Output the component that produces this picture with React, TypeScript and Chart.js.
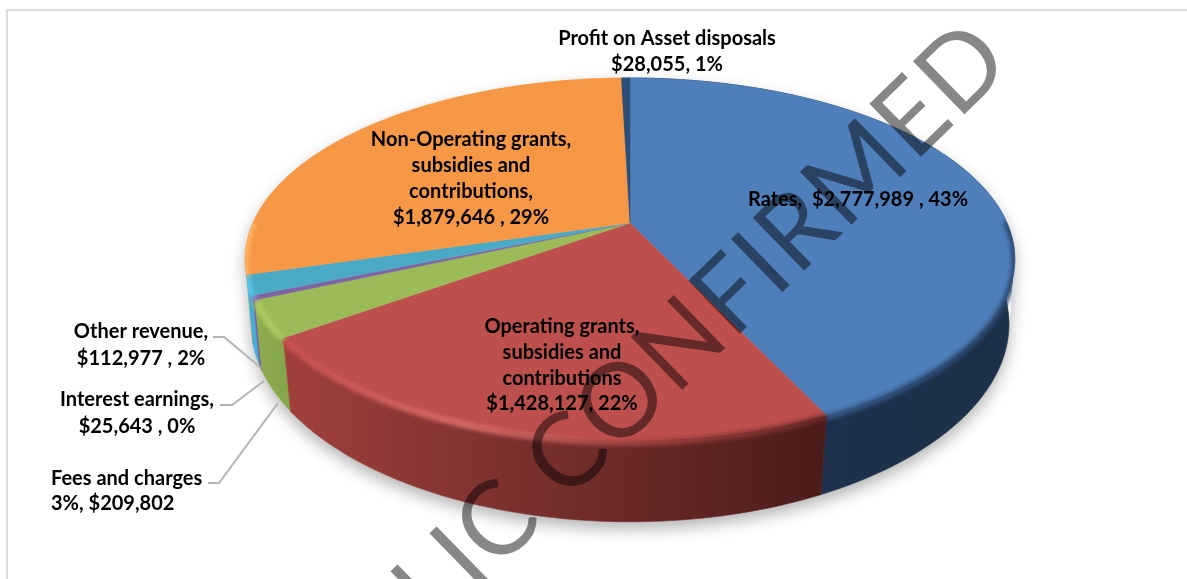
import React, { useEffect, useRef } from "react";
import { Chart, registerables } from "chart.js";

Chart.register(...registerables);

const categories = [
  "Rates",
  "Operating grants, subsidies and contributions",
  "Fees and charges",
  "Interest earnings",
  "Other revenue",
  "Non-Operating grants, subsidies and contributions",
  "Profit on Asset disposals",
];
const values = [2777989, 1428127, 209802, 25643, 112977, 1879646, 28055];
const topColors = ["#4e7fbb", "#bd4f4c", "#9bbb59", "#8064a2", "#4aa9c4", "#f59745", "#2c4d75"];
const sideLeft = ["#1e3351", "#a0403d", "#8dae4f", "#7a5ea0", "#44aed6", "#f8a452", "#1e3351"];
const sideRight = ["#1d3049", "#4a1c1a", "#86a64a", "#7a5ea0", "#44aed6", "#f8a452", "#1e3351"];
const bevelStops: string[][] = [
  ["#3a5f8f", "#2f4f79", "#2b476b"],
  ["#c9524f", "#e0706c", "#a84542", "#692826"],
  ["#aacb60", "#aed063", "#a6c75f"],
  ["#9278b8", "#9278b8", "#9278b8"],
  ["#5cc6ea", "#5cc6ea", "#5cc6ea"],
  ["#fdb566", "#fdb566", "#fdb566"],
  ["#2c4d75", "#2c4d75", "#2c4d75"],
];

const labelLines: string[][] = [
  ["Rates,  $2,777,989 , 43%"],
  ["Operating grants,", "subsidies and", "contributions", "$1,428,127, 22%"],
  ["Fees and charges", "3%, $209,802"],
  ["Interest earnings,", "$25,643 , 0%"],
  ["Other revenue,", "$112,977 , 2%"],
  ["Non-Operating grants,", "subsidies and", "contributions,", "$1,879,646 , 29%"],
  ["Profit on Asset disposals", "$28,055, 1%"],
];
const labelX = [858, 562, 51, 137, 141, 471, 667];
const labelY: number[][] = [
  [200],
  [327, 353, 379, 404],
  [479, 504],
  [400, 427],
  [332, 359],
  [140, 166, 192, 218],
  [39, 65],
];
const labelAlign = ["center", "center", "left", "center", "center", "center", "center"];
const leaders: number[][][] = [
  [[208, 483], [219, 483], [278, 403]],
  [[220, 405], [232, 405], [264, 381]],
  [[213, 337], [224, 337], [260, 367]],
];
const watermark = "PUBLIC CONFIRMED";

const CX = 630, CY = 223, A = 377, B = 174, K = 0.2, D = 65;
const proj = (t: number, r = 1, d = 0): [number, number] => {
  const u = r * Math.sin(t);
  const v = -r * Math.cos(t);
  const w = 1 - K * v;
  const shrink = 1 - (d / D) * (0.012 + 0.016 * Math.max(v, 0));
  return [CX + ((A * u) / w) * shrink, CY + (B * v + d) / w];
};
const samples = (a: number, b: number) => {
  const n = Math.max(2, Math.ceil((b - a) / 0.01));
  const out: number[] = [];
  for (let i = 0; i <= n; i++) out.push(a + ((b - a) * i) / n);
  return out;
};
const hullPath = (ctx: CanvasRenderingContext2D) => {
  const tan = Math.acos(-K);
  ctx.beginPath();
  samples(tan, Math.PI * 2 - tan).forEach((t, n) => {
    const [x, y] = proj(t, 1, D);
    if (n) ctx.lineTo(x, y);
    else ctx.moveTo(x, y);
  });
  samples(Math.PI * 2 - tan, Math.PI * 2 + tan).forEach((t) => {
    const [x, y] = proj(t);
    ctx.lineTo(x, y);
  });
  ctx.closePath();
};

const piePlugin = {
  id: "pie3d",
  beforeDatasetsDraw(chart: any) {
    const ctx: CanvasRenderingContext2D = chart.ctx;
    const arcs = chart.getDatasetMeta(0).data.map((el: any, i: number) => ({
      i,
      a: el.startAngle + Math.PI / 2,
      b: el.endAngle + Math.PI / 2,
    }));

    // frame
    ctx.save();
    ctx.strokeStyle = "#dcdcdc";
    ctx.lineWidth = 2;
    ctx.strokeRect(7, 10, 1400, 800);
    ctx.restore();

    // soft shadow beneath the body
    ctx.save();
    hullPath(ctx);
    ctx.shadowColor = "rgba(0,0,0,0.30)";
    ctx.shadowBlur = 16;
    ctx.shadowOffsetY = 7;
    ctx.fillStyle = "#fff";
    ctx.fill();
    ctx.restore();

    // side walls, from back to front
    const order = [...arcs].sort(
      (p: any, q: any) => -Math.cos((p.a + p.b) / 2) - -Math.cos((q.a + q.b) / 2)
    );
    order.forEach(({ i, a, b }: any) => {
      const ts = samples(a, b);
      const xs = ts.map((t) => proj(t)[0]);
      const g = ctx.createLinearGradient(Math.min(...xs), 0, Math.max(...xs), 0);
      g.addColorStop(0, sideLeft[i]);
      g.addColorStop(1, sideRight[i]);
      ctx.beginPath();
      ts.forEach((t, n) => {
        const [x, y] = proj(t);
        if (n) ctx.lineTo(x, y);
        else ctx.moveTo(x, y);
      });
      [...ts].reverse().forEach((t) => {
        const [x, y] = proj(t, 1, D);
        ctx.lineTo(x, y);
      });
      ctx.closePath();
      ctx.fillStyle = g;
      ctx.strokeStyle = g;
      ctx.lineWidth = 0.7;
      ctx.fill();
      ctx.stroke();
    });

    // top wedges
    arcs.forEach(({ i, a, b }: any) => {
      ctx.beginPath();
      ctx.moveTo(CX, CY);
      samples(a, b).forEach((t) => {
        const [x, y] = proj(t);
        ctx.lineTo(x, y);
      });
      ctx.closePath();
      ctx.fillStyle = topColors[i];
      ctx.strokeStyle = topColors[i];
      ctx.lineWidth = 0.5;
      ctx.fill();
      ctx.stroke();
    });

    // soft bevel along the front rim, kept inside the silhouette
    ctx.save();
    hullPath(ctx);
    ctx.clip();
    arcs.forEach(({ i, a, b }: any) => {
      const ts = samples(a, b).filter((t) => -Math.cos(t) > -0.02);
      if (ts.length < 2) return;
      const xs = ts.map((t) => proj(t)[0]);
      const x0 = Math.min(...xs);
      const x1 = Math.max(...xs) + 1;
      const g = ctx.createLinearGradient(x0, 0, x1, 0);
      const stops = bevelStops[i];
      stops.forEach((c, n) => g.addColorStop(n / (stops.length - 1), c));
      ctx.save();
      ctx.filter = "blur(2.2px)";
      ctx.beginPath();
      ts.forEach((t, n) => {
        const [x, y] = proj(t, 1, 1.5);
        if (n) ctx.lineTo(x, y);
        else ctx.moveTo(x, y);
      });
      ctx.strokeStyle = g;
      ctx.lineWidth = 6;
      ctx.stroke();
      ctx.restore();
    });
    ctx.restore();

    // leader lines
    ctx.save();
    ctx.strokeStyle = "#b3b3b3";
    ctx.lineWidth = 2;
    leaders.forEach((pts) => {
      ctx.beginPath();
      pts.forEach(([x, y], n) => (n ? ctx.lineTo(x, y) : ctx.moveTo(x, y)));
      ctx.stroke();
    });
    ctx.restore();

    // data labels
    ctx.save();
    ctx.fillStyle = "#000";
    ctx.font = "bold 20px Lato";
    ctx.textBaseline = "middle";
    labelLines.forEach((lines, i) => {
      ctx.textAlign = labelAlign[i] as CanvasTextAlign;
      lines.forEach((s, n) => ctx.fillText(s, labelX[i], labelY[i][n]));
    });
    ctx.restore();

    // watermark
    ctx.save();
    ctx.globalCompositeOperation = "multiply";
    ctx.translate(1015, 65);
    ctx.rotate((-44.3 * Math.PI) / 180);
    ctx.fillStyle = "#878787";
    ctx.font = "103px Lato";
    (ctx as any).letterSpacing = "1.5px";
    ctx.textAlign = "right";
    ctx.textBaseline = "alphabetic";
    ctx.fillText(watermark, 0, 0);
    ctx.restore();

    return false;
  },
};

export default function App() {
  const ref = useRef<HTMLCanvasElement>(null);
  useEffect(() => {
    const chart = new Chart(ref.current!, {
      type: "pie",
      data: {
        labels: categories,
        datasets: [{ data: values, backgroundColor: topColors, borderWidth: 0 }],
      },
      options: {
        animation: false,
        responsive: false,
        plugins: { legend: { display: false }, tooltip: { enabled: false } },
      },
      plugins: [piePlugin],
    });
    return () => chart.destroy();
  }, []);
  return (
    <div style={{ position: "absolute", left: 0, top: 0, width: 1187, height: 579, overflow: "hidden", background: "#fff" }}>
      <canvas ref={ref} width={1187} height={579} style={{ display: "block" }} />
    </div>
  );
}
